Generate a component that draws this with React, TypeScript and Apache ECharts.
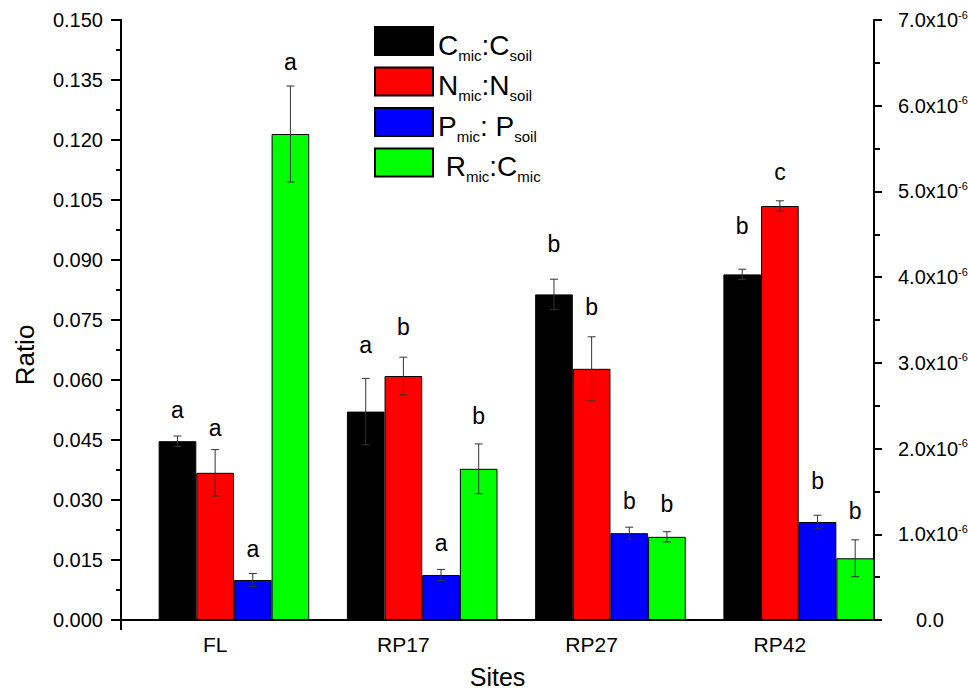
import React, { useEffect, useRef } from 'react';
import * as echarts from 'echarts';

const sites = ['FL', 'RP17', 'RP27', 'RP42'];

// left axis (Ratio)
const cmicCsoil = [0.0447, 0.0521, 0.0814, 0.0864];
const cmicCsoilErr = [0.0013, 0.0083, 0.0038, 0.0013];
const cmicCsoilSig = ['a', 'a', 'b', 'b'];
const cmicCsoilSigY = [0.0525, 0.0688, 0.094, 0.0985];

const nmicNsoil = [0.0368, 0.061, 0.0628, 0.1035];
const nmicNsoilErr = [0.0058, 0.0047, 0.008, 0.0013];
const nmicNsoilSig = ['a', 'b', 'b', 'c'];
const nmicNsoilSigY = [0.048, 0.0733, 0.0783, 0.1119];

const pmicPsoil = [0.01, 0.01125, 0.0217, 0.0245];
const pmicPsoilErr = [0.0016, 0.0014, 0.0015, 0.0017];
const pmicPsoilSig = ['a', 'a', 'b', 'b'];
const pmicPsoilSigY = [0.0178, 0.0193, 0.0298, 0.0348];

// right axis
const rmicCmic = [5.67e-6, 1.764e-6, 0.97e-6, 0.72e-6];
const rmicCmicErr = [0.56e-6, 0.29e-6, 0.06e-6, 0.215e-6];
const rmicCmicSig = ['a', 'b', 'b', 'b'];
const rmicCmicSigY = [6.51e-6, 2.38e-6, 1.353e-6, 1.27e-6];

const FONT = '"Liberation Sans", Arial, Helvetica, sans-serif';
const GROUP_SHIFT = 0.1;
const BAR_SPAN = 0.2;

const seriesDefs = [
  { name: 'CC', color: '#000000', vals: cmicCsoil, errs: cmicCsoilErr, sig: cmicCsoilSig, sigY: cmicCsoilSigY, yAxisIndex: 0, legend: '{m|C}{s|mic}{m|:C}{s|soil}' },
  { name: 'NN', color: '#ff0000', vals: nmicNsoil, errs: nmicNsoilErr, sig: nmicNsoilSig, sigY: nmicNsoilSigY, yAxisIndex: 0, legend: '{m|N}{s|mic}{m|:N}{s|soil}' },
  { name: 'PP', color: '#0000ff', vals: pmicPsoil, errs: pmicPsoilErr, sig: pmicPsoilSig, sigY: pmicPsoilSigY, yAxisIndex: 0, legend: '{m|P}{s|mic}{m|: P}{s|soil}' },
  { name: 'RC', color: '#00ff00', vals: rmicCmic, errs: rmicCmicErr, sig: rmicCmicSig, sigY: rmicCmicSigY, yAxisIndex: 1, legend: '{m| R}{s|mic}{m|:C}{s|mic}' },
];

export default function App() {
  const ref = useRef<HTMLDivElement>(null);
  useEffect(() => {
    document.body.style.margin = '0';
    if (!ref.current) return;
    const chart = echarts.init(ref.current, null, { renderer: 'svg' });
    const n = seriesDefs.length;
    const barSeries = seriesDefs.map((d) => ({
      type: 'bar',
      name: d.name,
      yAxisIndex: d.yAxisIndex,
      barWidth: 37.65,
      barGap: '0%',
      itemStyle: { color: d.color, borderColor: '#000', borderWidth: 1 },
      data: d.vals.map((v, i) => [i + 1 + GROUP_SHIFT, v]),
      z: 2,
    }));
    const errSeries = seriesDefs.map((d, k) => {
      const off = GROUP_SHIFT + (k - (n - 1) / 2) * BAR_SPAN;
      return {
        type: 'custom',
        name: d.name + '_err',
        yAxisIndex: d.yAxisIndex,
        z: 5,
        data: d.vals.map((v, i) => [i + 1 + off, v, d.errs[i], d.sigY[i]]),
        renderItem: (params: any, api: any) => {
          const x = api.value(0);
          const v = api.value(1);
          const e = api.value(2);
          const ly = api.value(3);
          const top = api.coord([x, v + e]);
          const bot = api.coord([x, v - e]);
          const lp = api.coord([x, ly]);
          const cap = 4;
          const st = { stroke: '#333', lineWidth: 1 };
          return {
            type: 'group',
            children: [
              { type: 'line', shape: { x1: top[0], y1: top[1], x2: bot[0], y2: bot[1] }, style: st },
              { type: 'line', shape: { x1: top[0] - cap, y1: top[1], x2: top[0] + cap, y2: top[1] }, style: st },
              { type: 'line', shape: { x1: bot[0] - cap, y1: bot[1], x2: bot[0] + cap, y2: bot[1] }, style: st },
              {
                type: 'text',
                style: {
                  text: d.sig[params.dataIndex],
                  x: lp[0],
                  y: lp[1],
                  align: 'center',
                  verticalAlign: 'middle',
                  textAlign: 'center',
                  textVerticalAlign: 'middle',
                  fontSize: 23,
                  fontFamily: FONT,
                  fill: '#000',
                },
              },
            ],
          };
        },
      };
    });

    const legendMap: Record<string, string> = {};
    seriesDefs.forEach((d) => (legendMap[d.name] = d.legend));

    chart.setOption({
      animation: false,
      textStyle: { fontFamily: FONT },
      grid: { left: 121, right: 94, top: 20, bottom: 71, outerBoundsMode: 'none', containLabel: false },
      legend: {
        data: seriesDefs.map((d) => d.name),
        orient: 'vertical',
        left: 374,
        top: 26,
        padding: 0,
        itemWidth: 58,
        itemHeight: 28,
        itemGap: 4,
        icon: 'rect',
        formatter: (name: string) => legendMap[name],
        textStyle: {
          color: '#000',
          rich: {
            m: { fontSize: 28, fontFamily: FONT, color: '#000', lineHeight: 36, verticalAlign: 'bottom' },
            s: { fontSize: 15, fontFamily: FONT, color: '#000', lineHeight: 16, height: 8, verticalAlign: 'bottom' },
          },
        },
      },
      xAxis: [
        {
          type: 'value',
          min: 0.5,
          max: 4.5,
          position: 'bottom',
          name: 'Sites',
          nameLocation: 'middle',
          nameGap: 44,
          nameTextStyle: { fontSize: 25, color: '#000', fontFamily: FONT },
          axisLine: { show: true, lineStyle: { color: '#000', width: 2 } },
          axisTick: { show: true, customValues: [0.5], length: 10, lineStyle: { color: '#000', width: 2 } },
          axisLabel: {
            customValues: [1, 2, 3, 4],
            formatter: (v: number) => sites[Math.round(v) - 1] ?? '',
            fontSize: 21,
            color: '#000',
            margin: 14,
            fontFamily: FONT,
          },
          splitLine: { show: false },
        },
        {
          type: 'value',
          min: 0.5,
          max: 4.5,
          position: 'top',
          axisLine: { show: true, lineStyle: { color: '#000', width: 2 } },
          axisTick: { show: false },
          axisLabel: { show: false },
          splitLine: { show: false },
        },
      ],
      yAxis: [
        {
          type: 'value',
          min: 0,
          max: 0.15,
          interval: 0.015,
          position: 'left',
          name: 'Ratio',
          nameLocation: 'middle',
          nameGap: 83,
          nameTextStyle: { fontSize: 26, color: '#000', fontFamily: FONT, padding: [0, 70, 0, 0] },
          axisLine: { show: true, lineStyle: { color: '#000', width: 2 } },
          axisTick: { show: true, length: 10, lineStyle: { color: '#000', width: 2 } },
          minorTick: { show: true, splitNumber: 2, length: 5, lineStyle: { color: '#000', width: 2 } },
          axisLabel: { formatter: (v: number) => v.toFixed(3), fontSize: 20, color: '#000', margin: 18, fontFamily: FONT },
          splitLine: { show: false },
        },
        {
          type: 'value',
          min: 0,
          max: 7e-6,
          interval: 1e-6,
          position: 'right',
          axisLine: { show: true, lineStyle: { color: '#000', width: 2 } },
          axisTick: { show: true, length: 8, lineStyle: { color: '#000', width: 2 } },
          minorTick: { show: true, splitNumber: 2, length: 6, lineStyle: { color: '#000', width: 2 } },
          axisLabel: {
            formatter: (v: number) => {
              if (Math.abs(v) < 1e-12) return '{z|0.0}';
              return '{a|' + (v * 1e6).toFixed(1) + 'x10}{b|-6}';
            },
            margin: 24,
            align: 'left',
            color: '#000',
            rich: {
              z: { fontSize: 20, lineHeight: 22, fontFamily: FONT, color: '#000', padding: [0, 0, 0, 18] },
              a: { fontSize: 20, lineHeight: 22, fontFamily: FONT, color: '#000' },
              b: { fontSize: 11, lineHeight: 11, fontFamily: FONT, color: '#000', verticalAlign: 'top' },
            },
          },
          splitLine: { show: false },
        },
      ],
      series: [...barSeries, ...errSeries],
    } as any);
    return () => chart.dispose();
  }, []);
  return <div ref={ref} style={{ width: 968, height: 691 }} />;
}
